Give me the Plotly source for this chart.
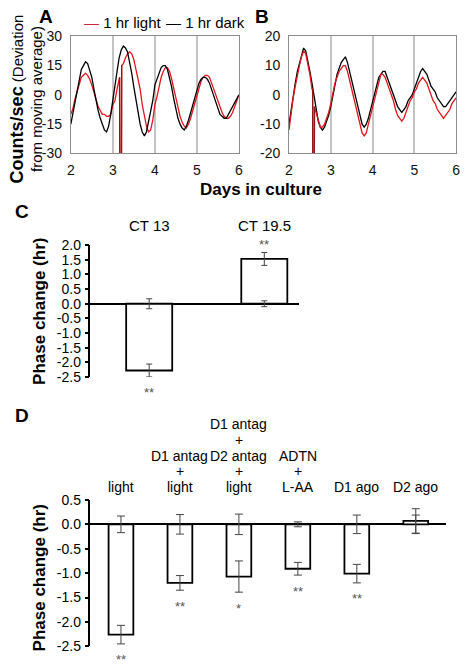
import plotly.graph_objects as go

W, H = 465, 668


def X(px):
    return px / W


def Y(py):
    return 1 - py / H


FONT = "Liberation Sans, Arial, sans-serif"
RED = "#E3141B"
PULSE = "#8B1A1A"

# ---------------- Panels A / B: time series ----------------
days = [round(2 + 0.05 * i, 2) for i in range(81)]

dark_A = [-15, -9, -3, 3, 9, 13, 15, 17, 16, 13, 9, 3, -3, -8, -12, -15, -18, -19, -16, -10,
          -2, 6, 12, 19, 23, 25, 24, 22, 17, 11, 4, -3, -10, -15, -19, -21, -19, -14, -9, -3,
          5, 8, 12, 14, 15, 15, 13, 9, 4, -2, -7, -12, -15, -17, -18, -16, -13, -9, -5, -1,
          3, 6, 8, 9, 9, 8, 6, 3, -1, -4, -7, -10, -11, -12, -12, -10, -8, -6, -4, -2, 0]
light_A = [-10, -7, -2, 2, 6, 9, 10, 11, 10, 8, 5, 1, -3, -6, -8, -10, -10, -11, -11, -10,
           -5, -3, 3, 8, -40, 16, 19, 21, 22, 21, 18, 13, 9, 3, -5, -11, -16, -19, -18, -13,
           -5, -1, 5, 9, 12, 14, 14, 12, 8, 3, -2, -7, -11, -14, -16, -17, -15, -12, -8, -4,
           0, 4, 7, 9, 10, 10, 9, 6, 3, -1, -4, -7, -9, -11, -12, -12, -11, -9, -6, -3, 0]
pulse_A_days = [3.16, 3.165, 3.205, 3.21]
pulse_A_vals = [9, -40, -40, 15]

dark_B = [-10, -5, 0, 4, 8, 11, 14, 16, 15, 12, 8, 4, 0, -5, -9, -11, -12, -11, -9, -7,
          -4, 0, 4, 7, 9, 11, 12, 13, 11, 8, 5, 1, -2, -5, -8, -10, -11, -10, -8, -5,
          -2, 1, 4, 6, 7, 8, 8, 6, 4, 2, 0, -2, -4, -5, -6, -5, -4, -2, -1, 0,
          2, 4, 6, 8, 9, 8, 7, 5, 3, 2, 1, -1, -2, -3, -4, -4, -3, -2, -1, 0, 1]
light_B = [-12, -6, -1, 3, 7, 10, 13, 15, 14, 11, 7, 2, -30, -6, -9, -11, -11, -10, -8, -6,
           -3, 1, 4, 6, 8, 9, 10, 10, 8, 5, 2, -2, -5, -8, -11, -13, -14, -13, -10, -7,
           -4, -1, 2, 5, 7, 7, 6, 4, 2, 0, -2, -5, -7, -8, -9, -8, -6, -4, -2, -1,
           1, 2, 4, 5, 6, 5, 4, 2, 0, -2, -3, -5, -6, -7, -8, -7, -6, -5, -3, -2, -1]
pulse_B_days = [2.565, 2.57, 2.605, 2.61]
pulse_B_vals = [2, -30, -30, -4]

# ---------------- Panel C ----------------
ct_labels = ["CT 13", "CT 19.5"]
ct_phase = [-2.28, 1.53]
ct_err = [0.22, 0.22]
ct_ctrl_err = [0.17, 0.10]
ct_stars = ["**", "**"]
c_ticks = [2.0, 1.5, 1.0, 0.5, 0.0, -0.5, -1.0, -1.5, -2.0, -2.5]

# ---------------- Panel D ----------------
d_labels = [["light"], ["D1 antag", "+", "light"],
            ["D1 antag", "+", "D2 antag", "+", "light"],
            ["ADTN", "+", "L-AA"], ["D1 ago"], ["D2 ago"]]
d_phase = [-2.26, -1.2, -1.07, -0.91, -1.01, 0.07]
d_err = [0.19, 0.15, 0.32, 0.13, 0.19, 0.25]
d_ctrl_err = [0.17, 0.2, 0.21, 0.05, 0.19, 0.19]
d_stars = ["**", "**", "*", "**", "**", ""]
d_ticks = [0.5, 0.0, -0.5, -1.0, -1.5, -2.0, -2.5]


def merge(d, v, pd_, pv):
    pts = sorted([p for p in zip(d, v) if not (pd_[0] <= p[0] <= pd_[-1])] + list(zip(pd_, pv)))
    return [p[0] for p in pts], [p[1] for p in pts]


fig = go.Figure()

la_x, la_y = merge(days, light_A, pulse_A_days, pulse_A_vals)
lb_x, lb_y = merge(days, light_B, pulse_B_days, pulse_B_vals)

fig.add_trace(go.Scatter(x=la_x, y=la_y, mode="lines", line=dict(color=RED, width=1.3),
                         xaxis="x", yaxis="y"))
fig.add_trace(go.Scatter(x=days, y=dark_A, mode="lines", line=dict(color="black", width=1.3),
                         xaxis="x", yaxis="y"))
fig.add_trace(go.Scatter(x=pulse_A_days, y=pulse_A_vals, mode="lines",
                         line=dict(color=PULSE, width=1.3), xaxis="x", yaxis="y"))

fig.add_trace(go.Scatter(x=days, y=dark_B, mode="lines", line=dict(color="black", width=1.3),
                         xaxis="x2", yaxis="y2"))
fig.add_trace(go.Scatter(x=lb_x, y=lb_y, mode="lines", line=dict(color=RED, width=1.3),
                         xaxis="x2", yaxis="y2"))
fig.add_trace(go.Scatter(x=pulse_B_days, y=pulse_B_vals, mode="lines",
                         line=dict(color=PULSE, width=1.3), xaxis="x2", yaxis="y2"))

# Panel C bars
c_x = list(range(len(ct_labels)))
fig.add_trace(go.Bar(x=c_x, y=ct_phase, width=0.4,
                     marker=dict(color="white", line=dict(color="black", width=1.8)),
                     error_y=dict(type="data", array=ct_err, color="#444", thickness=1, width=3),
                     xaxis="x3", yaxis="y3"))
fig.add_trace(go.Scatter(x=c_x, y=[0] * len(c_x), mode="markers",
                         marker=dict(size=1, color="rgba(0,0,0,0)"),
                         error_y=dict(type="data", array=ct_ctrl_err, color="#444", thickness=1, width=3),
                         xaxis="x3", yaxis="y3"))

# Panel D bars
d_x = list(range(len(d_labels)))
fig.add_trace(go.Bar(x=d_x, y=d_phase, width=0.42,
                     marker=dict(color="white", line=dict(color="black", width=1.8)),
                     error_y=dict(type="data", array=d_err, color="#444", thickness=1, width=4),
                     xaxis="x4", yaxis="y4"))
fig.add_trace(go.Scatter(x=d_x, y=[0] * len(d_x), mode="markers",
                         marker=dict(size=1, color="rgba(0,0,0,0)"),
                         error_y=dict(type="data", array=d_ctrl_err, color="#444", thickness=1, width=4),
                         xaxis="x4", yaxis="y4"))

ts_axis = dict(showline=True, mirror=True, linecolor="#8c8c8c", linewidth=1, ticks="",
               zeroline=False, tickfont=dict(size=14, color="#111", family=FONT),
               ticklabeloverflow="allow")

day_ticks = [2, 3, 4, 5, 6]
a_ticks = [30, 15, 0, -15, -30]
b_ticks = [20, 10, 0, -10, -20]


def fmt(v, dec=0):
    s = f"{abs(v):.{dec}f}"
    return ("-" + s) if v < 0 else s


annotations = []


def ann(text, px, py, size=14, bold=False, **kw):
    t = f"<b>{text}</b>" if bold else text
    d = dict(text=t, x=X(px), y=Y(py), xref="paper", yref="paper", showarrow=False,
             font=dict(size=size, family=FONT, color="black"), xanchor="center", yanchor="middle")
    d.update(kw)
    annotations.append(d)


# panel letters
ann("A", 43, 9, size=19, bold=True)
ann("B", 263, 9, size=19, bold=True)
ann("C", 18, 209, size=19, bold=True)
ann("D", 18, 418, size=19, bold=True)

# legend
ann("<span style='color:#C8283C'>—</span> 1 hr light", 79, 15, size=15, xanchor="left")
ann("<span style='color:black'>—</span> 1 hr dark", 163, 15, size=15, xanchor="left")

# axis titles
ann("<span style='font-size:18px'><b>Counts/sec</b></span> (Deviation<br>from moving average)",
    23, 93, size=15, textangle=-90)
ann("Days in culture", 262, 186, size=17, bold=True)
ann("Phase change (hr)", 36, 311, size=17, bold=True, textangle=-90)
ann("Phase change (hr)", 36, 584, size=17, bold=True, textangle=-90)

# C category labels and stars
for i, lab in enumerate(ct_labels):
    annotations.append(dict(text=lab, x=c_x[i], y=Y(223), xref="x3", yref="paper", showarrow=False,
                            font=dict(size=15, family=FONT, color="black")))
    if ct_stars[i]:
        v = ct_phase[i]
        if v < 0:
            annotations.append(dict(text=ct_stars[i], x=c_x[i], y=v - ct_err[i], xref="x3", yref="y3",
                                    showarrow=False, yanchor="middle", yshift=-16,
                                    font=dict(size=13, family=FONT, color="#555")))
        else:
            annotations.append(dict(text=ct_stars[i], x=c_x[i], y=v + ct_err[i], xref="x3", yref="y3",
                                    showarrow=False, yanchor="middle", yshift=8,
                                    font=dict(size=13, family=FONT, color="#555")))

# D category labels and stars
for i, lines in enumerate(d_labels):
    for k, line in enumerate(reversed(lines)):
        annotations.append(dict(text=line, x=d_x[i], y=Y(491 - 16.2 * k), xref="x4", yref="paper",
                                showarrow=False, yanchor="middle",
                                font=dict(size=14, family=FONT, color="black")))
    if d_stars[i]:
        v = d_phase[i]
        annotations.append(dict(text=d_stars[i], x=d_x[i], y=v - d_err[i], xref="x4", yref="y4",
                                showarrow=False, yanchor="middle", yshift=-16,
                                font=dict(size=13, family=FONT, color="#555")))

bar_y = dict(showline=True, linecolor="black", linewidth=1.5, ticks="outside", ticklen=4,
             tickwidth=1.5, tickcolor="black", showgrid=False, zeroline=True,
             zerolinecolor="black", zerolinewidth=1.5, ticklabelstandoff=1)

fig.update_layout(
    width=W, height=H, margin=dict(l=0, r=0, t=0, b=0),
    paper_bgcolor="white", plot_bgcolor="white", showlegend=False,
    font=dict(family=FONT, color="black"),
    xaxis=dict(domain=[X(68), X(239)], range=[2, 6], tickvals=day_ticks,
               ticktext=[str(t) for t in day_ticks], showgrid=True, gridcolor="#c4c4c4",
               gridwidth=1.5, anchor="y", ticklabelstandoff=4, **ts_axis),
    yaxis=dict(domain=[Y(149), Y(29)], range=[-30, 30], tickvals=a_ticks,
               ticktext=[fmt(t) for t in a_ticks], showgrid=False, anchor="x",
               ticklabelstandoff=5, **ts_axis),
    xaxis2=dict(domain=[X(290), X(460)], range=[2, 6], tickvals=day_ticks,
                ticktext=[str(t) for t in day_ticks], showgrid=True, gridcolor="#c4c4c4",
                gridwidth=1.5, anchor="y2", ticklabelstandoff=4, **ts_axis),
    yaxis2=dict(domain=[Y(149), Y(29)], range=[-20, 20], tickvals=b_ticks,
                ticktext=[fmt(t) for t in b_ticks], showgrid=False, anchor="x2",
                ticklabelstandoff=5, **ts_axis),
    xaxis3=dict(domain=[X(88), X(300)], range=[-0.51, 1.3], visible=False, anchor="y3"),
    yaxis3=dict(domain=[Y(378), Y(243)], range=[-2.5, 2.0], tickvals=c_ticks,
                ticktext=[fmt(t, 1) for t in c_ticks], anchor="x3",
                tickfont=dict(size=14, family=FONT, color="black"), **bar_y),
    xaxis4=dict(domain=[X(88), X(450)], range=[-0.517, 5.517], visible=False, anchor="y4"),
    yaxis4=dict(domain=[Y(654), Y(504)], range=[-2.5, 0.5], tickvals=d_ticks,
                ticktext=[fmt(t, 1) for t in d_ticks], anchor="x4",
                tickfont=dict(size=14, family=FONT, color="black"), **bar_y),
    annotations=annotations,
)

fig.write_html("out.html", config={"displayModeBar": False},
               post_script="document.body.style.margin='0';document.body.style.overflow='hidden';")
